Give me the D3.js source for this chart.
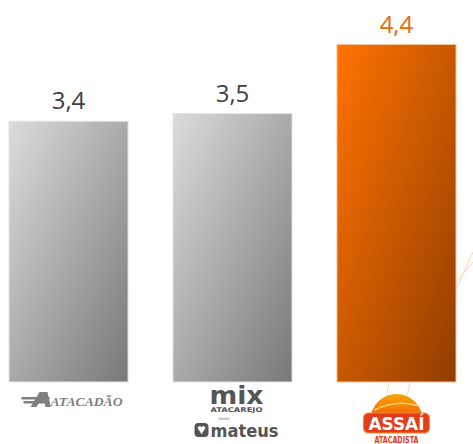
<!DOCTYPE html>
<html>
<head>
<meta charset="utf-8">
<script src="https://cdn.jsdelivr.net/npm/d3@7"></script>
<style>
  html, body { margin: 0; padding: 0; background: #fff; }
  svg { display: block; }
</style>
</head>
<body>
<div id="viz"></div>
<script>
// dados
const categories = ["Atacadão", "Mix Mateus", "Assaí"];
const values = [3.4, 3.5, 4.4];
const valueLabels = ["3,4", "3,5", "4,4"];
const highlight = [false, false, true];

const width = 473;
const height = 444;
const baseY = 382;

const svg = d3.select("#viz").append("svg")
  .attr("width", width)
  .attr("height", height);

const defs = svg.append("defs");

function addGrad(id, c1, c2) {
  const g = defs.append("linearGradient")
    .attr("id", id)
    .attr("x1", 0).attr("y1", 0).attr("x2", 1).attr("y2", 1);
  g.append("stop").attr("offset", "0%").attr("stop-color", c1);
  g.append("stop").attr("offset", "100%").attr("stop-color", c2);
}
addGrad("gGray", "#dcdcdc", "#787878");
addGrad("gOrange", "#ff7300", "#913d00");

const sun = defs.append("linearGradient")
  .attr("id", "gSun").attr("x1", 0).attr("y1", 0).attr("x2", 0).attr("y2", 1);
sun.append("stop").attr("offset", "0%").attr("stop-color", "#f7a600");
sun.append("stop").attr("offset", "100%").attr("stop-color", "#ee5a10");

const x = d3.scaleBand()
  .domain(categories)
  .range([9, 456])
  .paddingInner(0.274)
  .paddingOuter(0);

const y = d3.scaleLinear()
  .domain([0, 4.4])
  .range([baseY, 44.5]);

// linhas decorativas (fundo do logo)
const deco = svg.append("g")
  .attr("stroke", "#fbd5b5")
  .attr("stroke-width", 1)
  .attr("fill", "none");
deco.append("line").attr("x1", 378).attr("y1", 444).attr("x2", 389).attr("y2", 383);
deco.append("line").attr("x1", 395).attr("y1", 444).attr("x2", 410).attr("y2", 383);
deco.append("line").attr("x1", 456).attr("y1", 290).attr("x2", 473).attr("y2", 252);
deco.append("line").attr("x1", 456).attr("y1", 282).attr("x2", 473).attr("y2", 262);

// barras
svg.append("g").selectAll("rect")
  .data(values)
  .join("rect")
  .attr("x", (d, i) => x(categories[i]))
  .attr("y", d => y(d))
  .attr("width", x.bandwidth())
  .attr("height", d => baseY - y(d))
  .attr("fill", (d, i) => highlight[i] ? "url(#gOrange)" : "url(#gGray)")
  .attr("stroke", (d, i) => highlight[i] ? "#f6c39c" : "#e4e4e4")
  .attr("stroke-width", 1);

// rótulos
svg.append("g").selectAll("text")
  .data(values)
  .join("text")
  .attr("x", (d, i) => x(categories[i]) + x.bandwidth() / 2)
  .attr("y", d => y(d) - 12)
  .attr("text-anchor", "middle")
  .style("font-family", "'Open Sans', sans-serif")
  .style("font-size", "24px")
  .style("fill", (d, i) => highlight[i] ? "#e46c0a" : "#404040")
  .text((d, i) => valueLabels[i]);

// logos
const c0 = x(categories[0]) + x.bandwidth() / 2;
const c1 = x(categories[1]) + x.bandwidth() / 2;
const c2 = x(categories[2]) + x.bandwidth() / 2;

// Atacadão
const ata = svg.append("g").attr("fill", "#7f7f7f");
ata.append("path")
  .attr("d", `M${c0 - 38},407 L${c0 - 29},392 L${c0 - 21},392 L${c0 - 18},407 L${c0 - 23},407 L${c0 - 24},402 L${c0 - 29},402 L${c0 - 32},407 Z`);
ata.append("rect").attr("x", c0 - 47).attr("y", 397).attr("width", 28).attr("height", 2.5);
ata.append("rect").attr("x", c0 - 45).attr("y", 401).attr("width", 26).attr("height", 2.5);
ata.append("text")
  .attr("x", c0 - 18).attr("y", 406)
  .style("font-family", "'Liberation Serif', serif")
  .style("font-size", "12px")
  .style("font-weight", "bold")
  .style("font-style", "italic")
  .attr("textLength", 72)
  .attr("lengthAdjust", "spacingAndGlyphs")
  .text("ATACADÃO");

// Mix / Mateus
const mix = svg.append("g").attr("fill", "#555");
mix.append("text")
  .attr("x", c1 + 4).attr("y", 404)
  .attr("text-anchor", "middle")
  .style("font-family", "'DejaVu Sans', sans-serif")
  .style("font-size", "25px")
  .style("font-weight", "bold")
  .attr("textLength", 54)
  .attr("lengthAdjust", "spacingAndGlyphs")
  .text("mix");
mix.append("text")
  .attr("x", c1 + 4).attr("y", 412)
  .attr("text-anchor", "middle")
  .style("font-family", "'DejaVu Sans', sans-serif")
  .style("font-size", "6.5px")
  .style("font-weight", "bold")
  .attr("textLength", 52)
  .attr("lengthAdjust", "spacingAndGlyphs")
  .text("ATACAREJO");
mix.append("rect")
  .attr("x", c1 - 38).attr("y", 423).attr("width", 14).attr("height", 14).attr("rx", 4);
mix.append("path")
  .attr("fill", "#fff")
  .attr("d", `M${c1 - 35},428 Q${c1 - 33},424.5 ${c1 - 31},427.5 Q${c1 - 29},424.5 ${c1 - 27},428 L${c1 - 31},434 Z`);
mix.append("text")
  .attr("x", c1 - 22).attr("y", 437)
  .style("font-family", "'DejaVu Sans', sans-serif")
  .style("font-size", "17px")
  .style("font-weight", "bold")
  .attr("textLength", 68)
  .attr("lengthAdjust", "spacingAndGlyphs")
  .text("mateus");
mix.append("text")
  .attr("x", c1 - 14).attr("y", 420)
  .style("font-family", "'DejaVu Sans', sans-serif")
  .style("font-size", "3px")
  .text("GRUPO");

// Assaí
const as = svg.append("g");
as.append("path")
  .attr("d", d3.arc()({ innerRadius: 0, outerRadius: 26, startAngle: -Math.PI / 2, endAngle: Math.PI / 2 }))
  .attr("transform", `translate(${c2},420)`)
  .attr("fill", "url(#gSun)");
as.append("path")
  .attr("d", `M${c2 - 22},410 Q${c2},399 ${c2 + 23},406`)
  .attr("stroke", "#ffd36a").attr("stroke-width", 1.5).attr("fill", "none");
as.append("rect")
  .attr("x", c2 - 33).attr("y", 413)
  .attr("width", 66).attr("height", 20)
  .attr("rx", 5)
  .attr("fill", "#e23c1a")
  .attr("stroke", "#f08a2a").attr("stroke-width", 1.2);
as.append("text")
  .attr("x", c2).attr("y", 430)
  .attr("text-anchor", "middle")
  .style("font-family", "'DejaVu Sans', sans-serif")
  .style("font-size", "17px")
  .style("font-weight", "bold")
  .style("fill", "#fff")
  .attr("textLength", 56)
  .attr("lengthAdjust", "spacingAndGlyphs")
  .text("ASSAÍ");
as.append("text")
  .attr("x", c2).attr("y", 443)
  .attr("text-anchor", "middle")
  .style("font-family", "'DejaVu Sans', sans-serif")
  .style("font-size", "8px")
  .style("font-weight", "bold")
  .style("fill", "#e23c1a")
  .attr("textLength", 44)
  .attr("lengthAdjust", "spacingAndGlyphs")
  .text("ATACADISTA");
</script>
</body>
</html>
